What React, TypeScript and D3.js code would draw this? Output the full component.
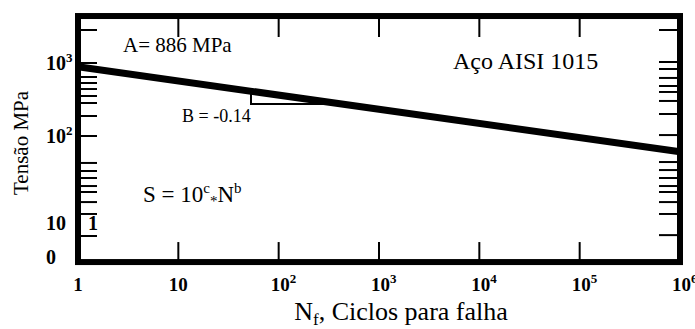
import React from 'react';
import * as d3 from 'd3';

const W = 695;
const H = 329;

// S-N line (Basquin): N cycles, S stress (MPa)
const cycles = [1, 1e6];
const stress = [886, 66];

// slope triangle
const triCycles = [53, 53, 330];
const triStress = [420, 274, 274];

// x axis
const xTickValues = [10, 100, 1e3, 1e4, 1e5];
const xLabelValues = [1, 10, 100, 1e3, 1e4, 1e5, 1e6];
const xLabelBase = ['1', '10', '10', '10', '10', '10', '10'];
const xLabelSup = ['', '', '2', '3', '4', '5', '6'];

// y axis (hand-drawn, irregular minor ticks)
const yLeftTicks = [2830, 1000, 643, 532, 440, 353, 283, 188, 100, 49, 39.6, 32.9, 26.6, 22.7, 17.4, 12.7, 4.15];
const yRightTicks = [2830, 1032, 828, 624, 484, 401, 302, 200, 103, 50.2, 40.6, 32.9, 26.6, 22.7, 17.4, 12.7, 4.4];
const yLabelValues = [1000, 100, 10, 1];
const yLabelBase = ['10', '10', '10', '0'];
const yLabelSup = ['3', '2', '', ''];

const FONT = '"Liberation Serif", "Times New Roman", serif';

export default function App() {
  const x = d3.scaleLog().domain([1, 1e6]).range([78, 680]);
  const yLog = d3.scaleLinear().domain([0, 1, 2, 3]).range([257, 223, 136, 63]);
  const y = (v: number) => yLog(Math.log10(v));

  const frameTop = y(4400);
  const frameBottom = y(0.71);
  const left = x(1);
  const right = x(1e6);

  const pts = cycles.map((c, i) => [c, stress[i]] as [number, number]);
  const line = d3
    .line<[number, number]>()
    .x((d) => x(d[0]))
    .y((d) => y(d[1]));
  const triPts = triCycles.map((c, i) => [c, triStress[i]] as [number, number]);

  const tickLen = 18;

  return (
    <svg
      width={W}
      height={H}
      style={{ position: 'absolute', left: 0, top: 0, background: '#fff' }}
      fontFamily={FONT}
    >
      <rect x={0} y={0} width={W} height={H} fill="#fff" />
      {/* x ticks top and bottom */}
      {xTickValues.map((v) => (
        <g key={'xt' + v} stroke="#000" strokeWidth={2}>
          <line x1={x(v)} x2={x(v)} y1={frameTop} y2={frameTop + tickLen + 3} />
          <line x1={x(v)} x2={x(v)} y1={frameBottom} y2={frameBottom - tickLen - 2} />
        </g>
      ))}
      {/* y ticks left */}
      {yLeftTicks.map((v, i) => (
        <line key={'yl' + i} x1={left} x2={left + 19} y1={y(v)} y2={y(v)} stroke="#000" strokeWidth={2} />
      ))}
      {/* y ticks right */}
      {yRightTicks.map((v, i) => (
        <line key={'yr' + i} x1={right} x2={right - 21} y1={y(v)} y2={y(v)} stroke="#000" strokeWidth={2} />
      ))}
      {/* frame */}
      <rect
        x={left}
        y={frameTop}
        width={right - left}
        height={frameBottom - frameTop}
        fill="none"
        stroke="#000"
        strokeWidth={6}
      />
      {/* slope triangle */}
      <path d={line(triPts) || ''} fill="none" stroke="#000" strokeWidth={2} />
      {/* S-N line */}
      <path d={line(pts) || ''} fill="none" stroke="#000" strokeWidth={7} />

      {/* x labels */}
      {xLabelValues.map((v, i) =>
        xLabelSup[i] ? (
          <text key={'xl' + v} x={x(v) - 8} y={291} fontSize={19} fontWeight="bold">
            {xLabelBase[i]}
            <tspan fontSize={13} dy={-8}>{xLabelSup[i]}</tspan>
          </text>
        ) : (
          <text key={'xl' + v} x={x(v)} y={291} fontSize={19} fontWeight="bold" textAnchor="middle">
            {xLabelBase[i]}
          </text>
        )
      )}
      {/* y labels */}
      {yLabelValues.map((v, i) => (
        <text key={'yl' + v} x={46} y={y(v) + 7} fontSize={20} fontWeight="bold">
          {yLabelBase[i]}
          {yLabelSup[i] ? <tspan fontSize={13} dy={-8}>{yLabelSup[i]}</tspan> : null}
        </text>
      ))}
      <text x={93} y={y(10) + 7} fontSize={20} fontWeight="bold" textAnchor="middle">1</text>

      {/* annotations */}
      <text x={123} y={52} fontSize={21}>A= 886 MPa</text>
      <text x={453} y={69} fontSize={24}>Aço AISI 1015</text>
      <text x={182} y={122} fontSize={18}>B = -0.14</text>
      <text x={143} y={202} fontSize={23}>
        S = 10
        <tspan fontSize={15} dy={-9}>c</tspan>
        <tspan fontSize={15} dy={13}>*</tspan>
        <tspan fontSize={23} dy={-4}>N</tspan>
        <tspan fontSize={15} dy={-9}>b</tspan>
      </text>

      {/* axis titles */}
      <text x={401} y={320} fontSize={26} textAnchor="middle">
        N<tspan fontSize={17} dy={5}>f</tspan>
        <tspan dy={-5}>, Ciclos para falha</tspan>
      </text>
      <text transform="translate(28,143) rotate(-90)" fontSize={21} textAnchor="middle">
        Tensão MPa
      </text>
    </svg>
  );
}
